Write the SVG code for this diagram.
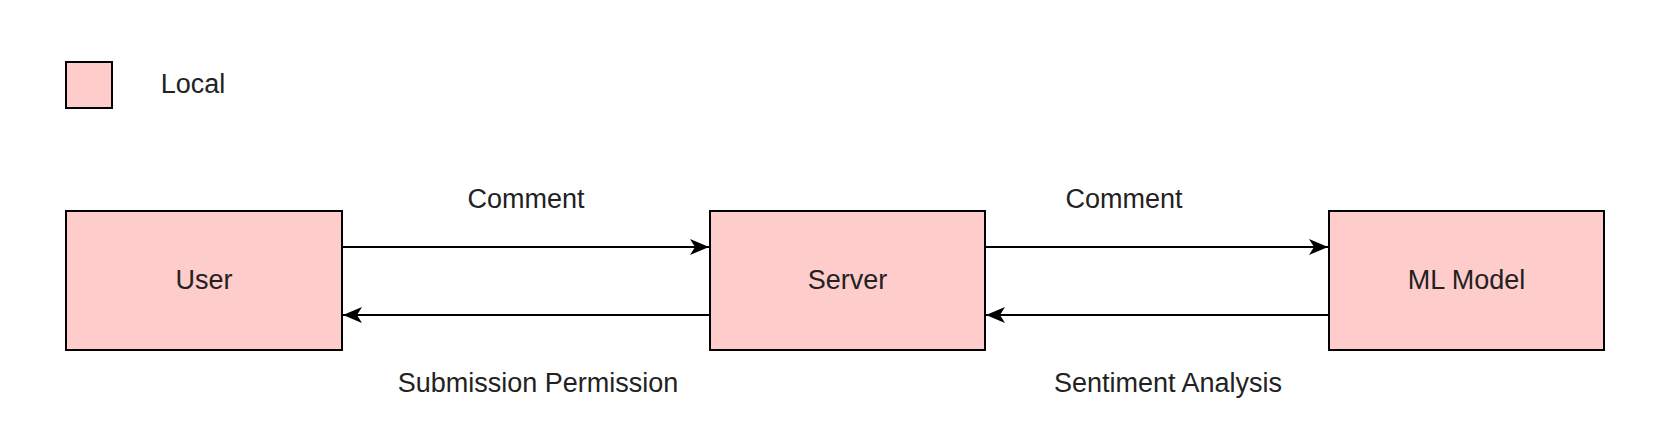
<svg xmlns="http://www.w3.org/2000/svg" width="1675" height="442" viewBox="0 0 1675 442">
<defs>
<style>
.box{fill:#FFCCCC;stroke:#000;stroke-width:2}
.lbl{font-family:"Liberation Sans",Arial,sans-serif;font-size:27px;fill:#222;text-anchor:middle}
.edge{stroke:#000;stroke-width:2;fill:none}
</style>
<marker id="arr" markerUnits="userSpaceOnUse" markerWidth="20" markerHeight="18" refX="19" refY="9" orient="auto">
<path d="M0,1 L19,9 L0,17 L5,9 Z" fill="#000"/>
</marker>
</defs>
<rect width="1675" height="442" fill="#fff"/>
<g id="legend">
<rect class="box" x="66" y="62" width="46" height="46"/>
<text class="lbl" x="193" y="93">Local</text>
</g>
<g id="user">
<rect class="box" x="66" y="211" width="276" height="139"/>
<text class="lbl" x="204" y="289">User</text>
</g>
<g id="server">
<rect class="box" x="710" y="211" width="275" height="139"/>
<text class="lbl" x="847.5" y="289">Server</text>
</g>
<g id="mlmodel">
<rect class="box" x="1329" y="211" width="275" height="139"/>
<text class="lbl" x="1466.5" y="289">ML Model</text>
</g>
<g id="connectors">
<line class="edge" x1="342" y1="247" x2="709" y2="247" marker-end="url(#arr)"/>
<line class="edge" x1="710" y1="315" x2="343" y2="315" marker-end="url(#arr)"/>
<line class="edge" x1="985" y1="247" x2="1328" y2="247" marker-end="url(#arr)"/>
<line class="edge" x1="1329" y1="315" x2="986" y2="315" marker-end="url(#arr)"/>
<text class="lbl" x="526" y="208">Comment</text>
<text class="lbl" x="538" y="392">Submission Permission</text>
<text class="lbl" x="1124" y="208">Comment</text>
<text class="lbl" x="1168" y="392">Sentiment Analysis</text>
</g>
</svg>
